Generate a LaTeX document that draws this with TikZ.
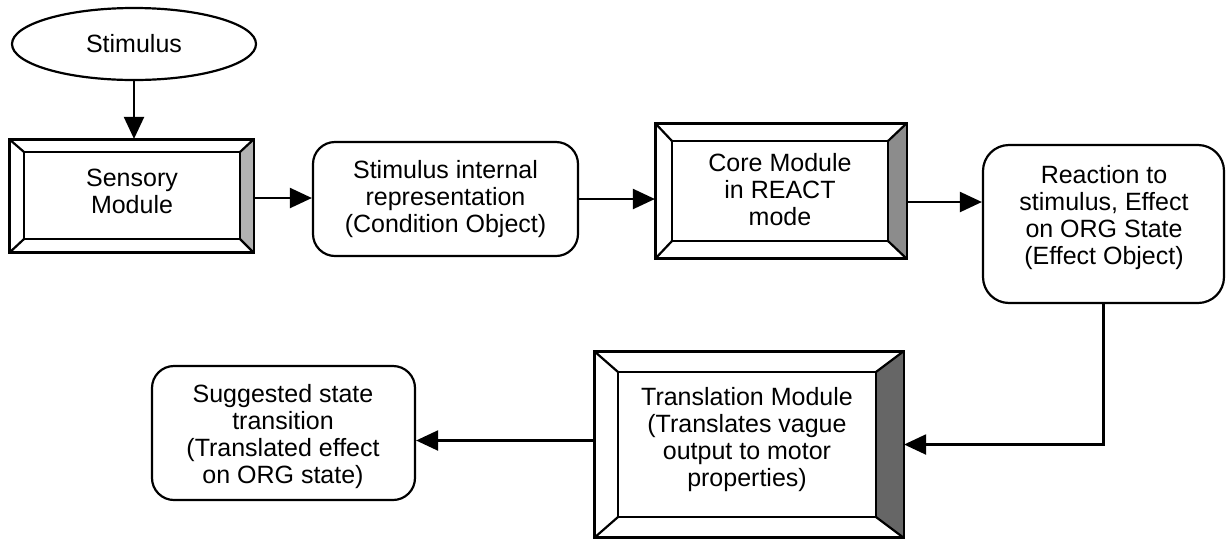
\documentclass[tikz,border=0pt]{standalone}
\usepackage{fontspec}
\setmainfont{Liberation Sans}
\usetikzlibrary{arrows.meta,shapes.geometric,calc}
\newcommand\bevelbox[6]{%
  \coordinate (#1-INW) at ($(#1.north west)+(#2,#3)$);
  \coordinate (#1-INE) at ($(#1.north east)+(-#4,#3)$);
  \coordinate (#1-ISE) at ($(#1.south east)+(-#4,-#5)$);
  \coordinate (#1-ISW) at ($(#1.south west)+(#2,-#5)$);
  \fill[#6] (#1.north east) -- (#1.south east) -- (#1-ISE) -- (#1-INE) -- cycle;
  \draw[ln] (#1-INW) rectangle (#1-ISE);
  \draw[ln] (#1.north west) -- (#1-INW) (#1.north east) -- (#1-INE)
            (#1.south east) -- (#1-ISE) (#1.south west) -- (#1-ISW);
  \draw[ln] (#1.north west) rectangle (#1.south east);
}
\begin{document}
\begin{tikzpicture}[x=1pt,y=-1pt,
  every node/.style={font=\fontsize{25}{27}\selectfont, align=center, text=black},
  ln/.style={line width=2.2pt, line join=miter},
  arr/.style={ln,-{Triangle[length=22pt,width=20pt]}},
  bev/.style={draw,line width=2.2pt,rectangle,inner sep=0pt},
  rbox/.style={draw,line width=2.2pt,rounded corners=22pt,inner sep=0pt}]
\useasboundingbox[fill=white] (0,0) rectangle (1226,539);

\node[draw,ellipse,ln,minimum width=244pt,minimum height=72pt,inner sep=0pt] (stim) at (134,44) {Stimulus};
\node[bev,minimum width=243pt,minimum height=112pt] (sens) at (131.5,196) {};
\node[rbox,minimum width=265pt,minimum height=114pt] (stimint) at (445.5,199) {Stimulus internal\\representation\\(Condition Object)};
\node[bev,minimum width=250pt,minimum height=134pt] (core) at (781,191) {};
\node[rbox,rounded corners=26pt,minimum width=241pt,minimum height=158pt] (react) at (1103.5,224) {};
\node[bev,minimum width=308pt,minimum height=185pt] (trans) at (749,444.5) {};
\node[rbox,minimum width=263pt,minimum height=134pt] (sugg) at (283.5,433) {};

\bevelbox{sens}{15}{13}{14}{14}{black!30}
\bevelbox{core}{17}{18}{19}{18}{black!45}
\bevelbox{trans}{24}{21}{28}{21}{black!60}

\node (senstext) at (132,191) {Sensory\\Module};
\node (coretext) at (780,190) {Core Module\\in REACT\\mode};
\node (reacttext) at (1104,218) {Reaction to\\stimulus, Effect\\on ORG State\\(Effect Object)};
\node (transtext) at (747,440) {Translation Module\\(Translates vague\\output to motor\\properties)};
\node (suggtext) at (283,437) {Suggested state\\transition\\(Translated effect\\on ORG state)};

\draw[arr] (stim.south) -- (stim.south |- sens.north);
\draw[arr] ([yshift=-2pt]sens.east) -- ([yshift=-2pt]sens.east -| stimint.west);
\draw[arr] (stimint.east) -- (stimint.east -| core.west);
\draw[arr] ([yshift=-11pt]core.east) -- ([yshift=-11pt]core.east -| react.west);
\draw[arr] (react.south) |- (trans.east);
\draw[arr] ([yshift=4pt]trans.west) -- ([yshift=4pt]trans.west -| sugg.east);
\end{tikzpicture}
\end{document}
